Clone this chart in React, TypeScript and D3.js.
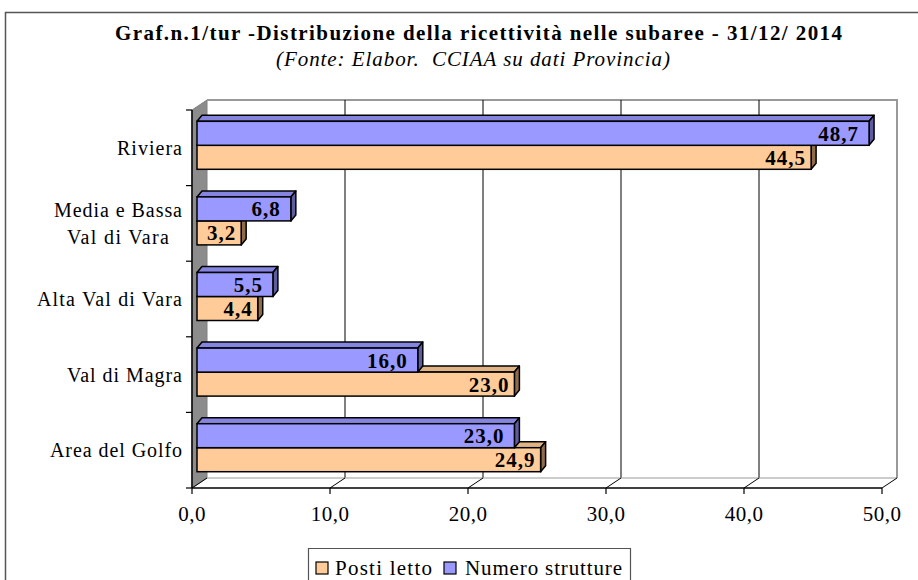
import React from "react";
import * as d3 from "d3";

const categories = ["Riviera", "Media e Bassa\nVal di Vara", "Alta Val di Vara", "Val di Magra", "Area del Golfo"];
const numeroStrutture = [48.7, 6.8, 5.5, 16.0, 23.0];
const postiLetto = [44.5, 3.2, 4.4, 23.0, 24.9];
const xTicks = [0, 10, 20, 30, 40, 50];
const seriesNames = ["Posti letto", "Numero strutture"];

const W = 918, H = 580;
const FONT = "'Liberation Serif', 'Times New Roman', serif";
const BLUE = "#9999FF", BLUE_TOP = "#8585e0", BLUE_SIDE = "#5c5c9e";
const ORANGE = "#FFCC99", ORANGE_TOP = "#e0b385", ORANGE_SIDE = "#8f6b4a";

const fmt = (v: number) => v.toFixed(1).replace(".", ",");

// approximate widths of the stretched text in the reference
const catWidth: Record<string, number> = {
  "Riviera": 65,
  "Media e Bassa": 128,
  "Val di Vara": 102,
  "Alta Val di Vara": 145,
  "Val di Magra": 115,
  "Area del Golfo": 132,
};

export default function App() {
  const x = d3.scaleLinear().domain([0, 50]).range([192, 882]);
  const y = d3.scaleBand<string>().domain(categories).range([110, 488]);
  const DX = 15, DY = -10; // wall depth
  const bdx = 5, bdy = -6; // bar depth
  const barOff = 5, barH = 24;

  const bar = (v: number, yt: number, front: string, top: string, side: string, pad: number, key: string) => {
    const x0 = x(0) + barOff;
    const x1 = x(v) + barOff;
    return (
      <g key={key}>
        <polygon points={`${x0},${yt} ${x0 + bdx},${yt + bdy} ${x1 + bdx},${yt + bdy} ${x1},${yt}`} fill={top} stroke="#000" strokeWidth={1.5} strokeLinejoin="round" />
        <polygon points={`${x1},${yt} ${x1 + bdx},${yt + bdy} ${x1 + bdx},${yt + barH + bdy} ${x1},${yt + barH}`} fill={side} stroke="#000" strokeWidth={1.5} strokeLinejoin="round" />
        <rect x={x0} y={yt} width={x1 - x0} height={barH} fill={front} stroke="#000" strokeWidth={1.5} />
        <text x={x1 - pad} y={yt + barH / 2 + 7.5} textAnchor="end" fontFamily={FONT} fontWeight="bold" fontSize={21} letterSpacing={1} fill="#000">{fmt(v)}</text>
      </g>
    );
  };

  const yTop = y.range()[0], yBot = y.range()[1];

  return (
    <svg width={W} height={H} style={{ position: "fixed", left: 0, top: 0 }} fontFamily={FONT}>
      <rect x={0} y={0} width={W} height={H} fill="#fff" />
      <path d={`M5.5,${H} V12.5 H${W}`} fill="none" stroke="#555" strokeWidth={1.5} />
      <text x={115} y={40} fontWeight="bold" fontSize={21} textLength={727} lengthAdjust="spacing">Graf.n.1/tur -Distribuzione della ricettività nelle subaree - 31/12/ 2014</text>
      <text x={276} y={66} fontStyle="italic" fontSize={21} textLength={394} lengthAdjust="spacing" style={{ whiteSpace: "pre" }}>{"(Fonte: Elabor.  CCIAA su dati Provincia)"}</text>

      {/* side wall */}
      <polygon points={`${x(0)},${yTop} ${x(0) + DX},${yTop + DY} ${x(0) + DX},${yBot + DY} ${x(0)},${yBot}`} fill="#8c8c8c" stroke="#808080" strokeWidth={1} />
      {/* back wall */}
      <path d={`M${x(0) + DX},${yTop + DY} H${x(50) + DX} V${yBot + DY}`} fill="none" stroke="#999" strokeWidth={2} />
      {/* gridlines */}
      {xTicks.slice(1, 5).map((t) => (
        <line key={"g" + t} x1={x(t) + DX} x2={x(t) + DX} y1={yTop + DY} y2={yBot + DY} stroke="#000" strokeWidth={1} />
      ))}
      {/* floor */}
      <line x1={x(0) + DX} x2={x(50) + DX} y1={yBot + DY} y2={yBot + DY} stroke="#999" strokeWidth={1.2} />
      {xTicks.map((t) => (
        <line key={"f" + t} x1={x(t)} y1={yBot} x2={x(t) + DX} y2={yBot + DY} stroke="#000" strokeWidth={1} />
      ))}

      {/* bars */}
      {categories.map((c, i) => {
        const cy = (y(c) as number) + y.bandwidth() / 2 - 2.5;
        return (
          <g key={c}>
            {bar(postiLetto[i], cy, ORANGE, ORANGE_TOP, ORANGE_SIDE, 5, "o" + i)}
            {bar(numeroStrutture[i], cy - barH, BLUE, BLUE_TOP, BLUE_SIDE, 10, "b" + i)}
          </g>
        );
      })}

      {/* axes */}
      <line x1={x(0)} x2={x(0)} y1={yTop} y2={yBot} stroke="#000" strokeWidth={1.5} />
      {[...categories.map((c) => y(c) as number), yBot].map((yy, i) => (
        <line key={"yt" + i} x1={x(0) - 6} x2={x(0)} y1={yy} y2={yy} stroke="#000" strokeWidth={1.2} />
      ))}
      <line x1={x(0)} x2={x(50)} y1={yBot} y2={yBot} stroke="#000" strokeWidth={1.5} />
      {xTicks.map((t) => (
        <g key={"xt" + t}>
          <line x1={x(t)} x2={x(t)} y1={yBot} y2={yBot + 6} stroke="#000" strokeWidth={1.2} />
          <text x={x(t)} y={521} textAnchor="middle" fontSize={21} letterSpacing={0.5}>{fmt(t)}</text>
        </g>
      ))}
      {categories.map((c) => {
        const lines = c.split("\n");
        const cy = (y(c) as number) + y.bandwidth() / 2;
        if (lines.length === 1) {
          const w = catWidth[c];
          return <text key={"l" + c} x={182 - w} y={cy + 7} fontSize={20} textLength={w} lengthAdjust="spacing">{c}</text>;
        }
        return (
          <g key={"l" + c}>
            {lines.map((ln, j) => {
              const w = catWidth[ln];
              return <text key={j} x={118 - w / 2} y={cy - 6 + j * 27} fontSize={20} textLength={w} lengthAdjust="spacing">{ln}</text>;
            })}
          </g>
        );
      })}

      {/* legend */}
      <path d={`M308.5,${H} V548.5 H630.5 V${H}`} fill="none" stroke="#555" strokeWidth={1.2} />
      <rect x={316} y={562} width={12} height={12} fill={ORANGE} stroke="#000" strokeWidth={1.2} />
      <text x={335} y={575} fontSize={21} textLength={97} lengthAdjust="spacing">{seriesNames[0]}</text>
      <rect x={444} y={562} width={12} height={12} fill={BLUE} stroke="#000" strokeWidth={1.2} />
      <text x={465} y={575} fontSize={21} textLength={157} lengthAdjust="spacing">{seriesNames[1]}</text>
    </svg>
  );
}
